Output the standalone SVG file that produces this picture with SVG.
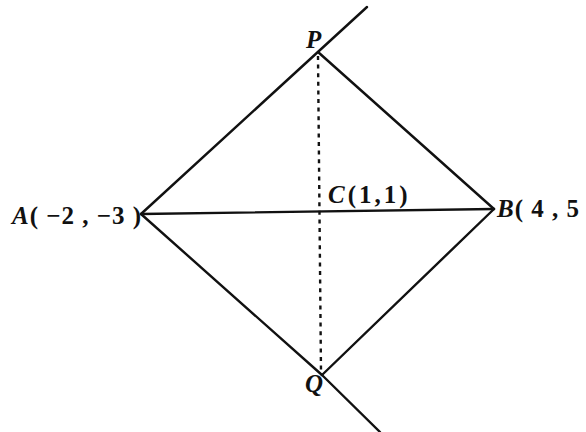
<svg xmlns="http://www.w3.org/2000/svg" width="586" height="432" viewBox="0 0 586 432">
<style>
.ln{stroke:#111;stroke-width:2.4;fill:none;stroke-linecap:round}
.ds{stroke:#111;stroke-width:2.4;fill:none;stroke-dasharray:4 4.6}
.lb{font-family:"Liberation Serif",serif;font-size:25px;fill:#111;font-weight:bold}
.it{font-style:italic}
</style>
<rect width="586" height="432" fill="#fff"/>
<g id="connectors">
<line class="ln" x1="141" y1="214" x2="367" y2="7"/>
<line class="ln" x1="318" y1="52" x2="494" y2="209"/>
<line class="ln" x1="494" y1="209" x2="322" y2="375"/>
<line class="ln" x1="141" y1="214" x2="322" y2="375"/>
<line class="ln" x1="322" y1="375" x2="380" y2="432"/>
<line class="ln" x1="141" y1="214" x2="494" y2="209"/>
<line class="ds" x1="318" y1="56" x2="321" y2="372"/>
</g>
<g id="P"><text class="lb it" x="306" y="48">P</text></g>
<g id="Q"><text class="lb it" x="305" y="392">Q</text></g>
<g id="A"><text class="lb" x="12" y="224" letter-spacing="1"><tspan class="it">A</tspan>( −2 , −3 )</text></g>
<g id="B"><text class="lb" x="497" y="217" letter-spacing="1"><tspan class="it">B</tspan>( 4 , 5</text></g>
<g id="C"><text class="lb" x="328" y="203" letter-spacing="3"><tspan class="it">C</tspan>(1,1)</text></g>
</svg>
